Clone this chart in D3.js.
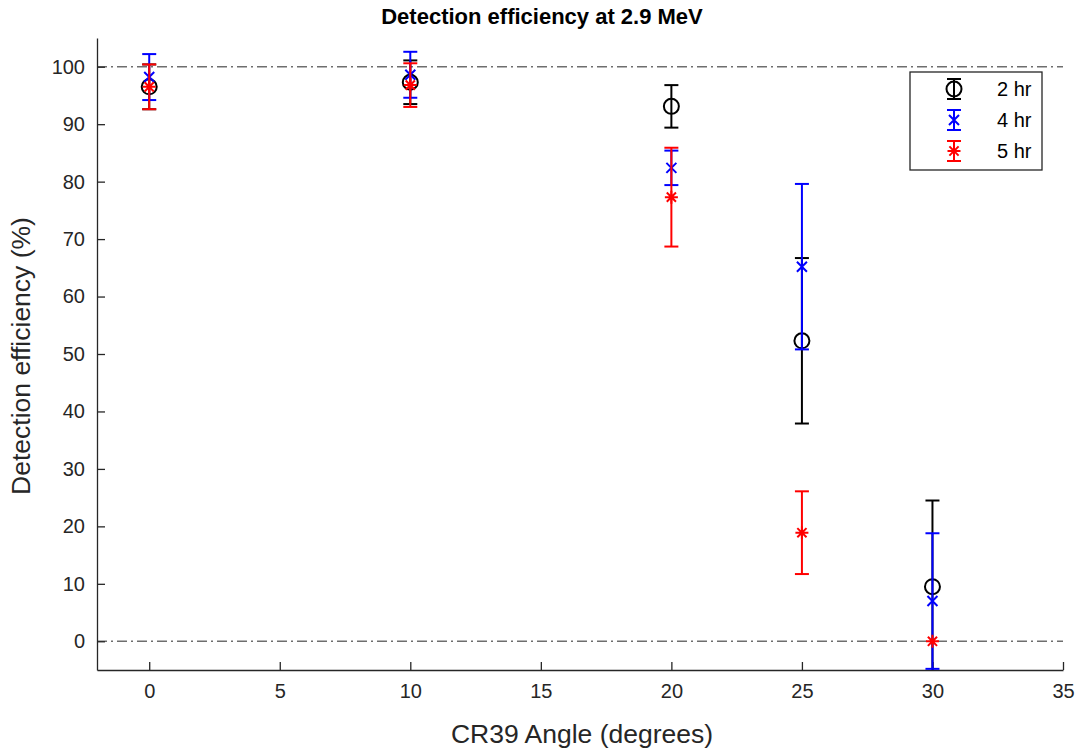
<!DOCTYPE html>
<html>
<head>
<meta charset="utf-8">
<script src="https://cdn.jsdelivr.net/npm/d3@7"></script>
<style>
body { margin: 0; background: #fff; }
text { font-family: "Liberation Sans", Arial, sans-serif; }
</style>
</head>
<body>
<svg id="chart"></svg>
<script>
var svg_width = 1081
var svg_height = 750

// data
var angles = [0, 10, 20, 25, 30]
var series_names = ["2 hr", "4 hr", "5 hr"]
var series_colors = ["#000000", "#0000ff", "#ff0000"]
var series_symbols = ["circle", "x", "star"]
var eff_2hr = [96.5, 97.3, 93.1, 52.3, 9.5]
var err_2hr = [3.9, 3.8, 3.7, 14.4, 15.0]
var eff_4hr = [98.2, 98.6, 82.4, 65.2, 7.0]
var err_4hr = [4.0, 4.0, 3.0, 14.4, 11.8]
var eff_5hr = [96.5, 96.8, 77.3, 18.9, 0]
var err_5hr = [3.9, 3.8, 8.6, 7.2, 0]
var x_ticks = [0, 5, 10, 15, 20, 25, 30, 35]
var y_ticks = [0, 10, 20, 30, 40, 50, 60, 70, 80, 90, 100]
var ref_lines = [0, 100]

var series = [
  { name: series_names[0], color: series_colors[0], sym: series_symbols[0], vals: eff_2hr, errs: err_2hr },
  { name: series_names[1], color: series_colors[1], sym: series_symbols[1], vals: eff_4hr, errs: err_4hr },
  { name: series_names[2], color: series_colors[2], sym: series_symbols[2], vals: eff_5hr, errs: err_5hr }
]

var plot_left = 97, plot_right = 1063, plot_top = 38, plot_bottom = 670
var axis_color = "#262626"

var svg = d3.select("#chart")
  .attr("width", svg_width)
  .attr("height", svg_height)

var x = d3.scaleLinear().domain([-2, 35]).range([plot_left, plot_right])
var y = d3.scaleLinear().domain([-5, 105]).range([plot_bottom, plot_top])

svg.append("defs").append("clipPath").attr("id", "plotclip")
  .append("rect")
  .attr("x", plot_left).attr("y", plot_top)
  .attr("width", plot_right - plot_left).attr("height", plot_bottom - plot_top)

// reference lines
svg.selectAll("line.ref")
  .data(ref_lines)
  .enter()
  .append("line")
  .attr("class", "ref")
  .attr("x1", plot_left).attr("x2", plot_right)
  .attr("y1", function(d) { return y(d); })
  .attr("y2", function(d) { return y(d); })
  .attr("stroke", "#6e6e6e")
  .attr("stroke-width", 1.3)
  .attr("stroke-dasharray", "10,4,2,4")

// axes
var xAxis = svg.append("g")
  .attr("transform", "translate(0," + plot_bottom + ")")
  .call(d3.axisBottom(x).tickValues(x_ticks).tickSizeInner(-8).tickSizeOuter(0).tickPadding(14))
var yAxis = svg.append("g")
  .attr("transform", "translate(" + plot_left + ",0)")
  .call(d3.axisLeft(y).tickValues(y_ticks).tickSizeInner(-8).tickSizeOuter(0).tickPadding(12))

;[xAxis, yAxis].forEach(function(a) {
  a.select(".domain").attr("stroke", axis_color).attr("stroke-width", 1.3)
  a.selectAll(".tick line").attr("stroke", axis_color).attr("stroke-width", 1.3)
  a.selectAll(".tick text").attr("fill", axis_color).style("font-size", "20px")
    .style("font-family", "'Liberation Sans', Arial, sans-serif")
})

// labels
svg.append("text")
  .attr("x", (plot_left + plot_right) / 2 - 38).attr("y", 24)
  .attr("text-anchor", "middle")
  .style("font-size", "22px").style("font-weight", "bold")
  .attr("fill", "#000")
  .text("Detection efficiency at 2.9 MeV")

svg.append("text")
  .attr("x", 582).attr("y", 743)
  .attr("text-anchor", "middle")
  .style("font-size", "26.5px")
  .attr("fill", axis_color)
  .text("CR39 Angle (degrees)")

svg.append("text")
  .attr("transform", "translate(30,356) rotate(-90)")
  .attr("text-anchor", "middle")
  .style("font-size", "26.5px")
  .attr("fill", axis_color)
  .text("Detection efficiency (%)")

// marker drawing
function drawMarker(g, sym, color, cx, cy) {
  if (sym === "circle") {
    g.append("circle").attr("cx", cx).attr("cy", cy).attr("r", 7.5)
      .attr("fill", "none").attr("stroke", color).attr("stroke-width", 2)
  } else if (sym === "x") {
    var s = 5
    g.append("path")
      .attr("d", "M" + (cx - s) + "," + (cy - s) + "L" + (cx + s) + "," + (cy + s) +
                 "M" + (cx - s) + "," + (cy + s) + "L" + (cx + s) + "," + (cy - s))
      .attr("stroke", color).attr("stroke-width", 2).attr("fill", "none")
  } else {
    var r = 6.5, d = ""
    for (var k = 0; k < 4; k++) {
      var a = k * Math.PI / 4
      d += "M" + (cx - r * Math.cos(a)) + "," + (cy - r * Math.sin(a)) +
           "L" + (cx + r * Math.cos(a)) + "," + (cy + r * Math.sin(a))
    }
    g.append("path").attr("d", d)
      .attr("stroke", color).attr("stroke-width", 2).attr("fill", "none")
  }
}

function drawErrorBar(g, color, cx, ylo, yhi) {
  var cap = 7
  g.append("line").attr("x1", cx).attr("x2", cx).attr("y1", ylo).attr("y2", yhi)
    .attr("stroke", color).attr("stroke-width", 2)
  g.append("line").attr("x1", cx - cap).attr("x2", cx + cap).attr("y1", ylo).attr("y2", ylo)
    .attr("stroke", color).attr("stroke-width", 2)
  g.append("line").attr("x1", cx - cap).attr("x2", cx + cap).attr("y1", yhi).attr("y2", yhi)
    .attr("stroke", color).attr("stroke-width", 2)
}

var plot = svg.append("g").attr("clip-path", "url(#plotclip)")

series.forEach(function(s) {
  var g = plot.append("g")
  angles.forEach(function(a, i) {
    var cx = x(a)
    if (s.errs[i] > 0) {
      drawErrorBar(g, s.color, cx, y(s.vals[i] - s.errs[i]), y(s.vals[i] + s.errs[i]))
    }
    drawMarker(g, s.sym, s.color, cx, y(s.vals[i]))
  })
})

// legend
var lg = svg.append("g")
lg.append("rect")
  .attr("x", 910).attr("y", 72).attr("width", 132).attr("height", 98)
  .attr("fill", "#fff").attr("stroke", axis_color).attr("stroke-width", 1.3)
series.forEach(function(s, i) {
  var ly = 89 + i * 31
  drawErrorBar(lg, s.color, 954, ly + 10, ly - 10)
  drawMarker(lg, s.sym, s.color, 954, ly)
  lg.append("text")
    .attr("x", 997).attr("y", ly + 7)
    .style("font-size", "20px")
    .attr("fill", "#000")
    .text(s.name)
})
</script>
</body>
</html>
